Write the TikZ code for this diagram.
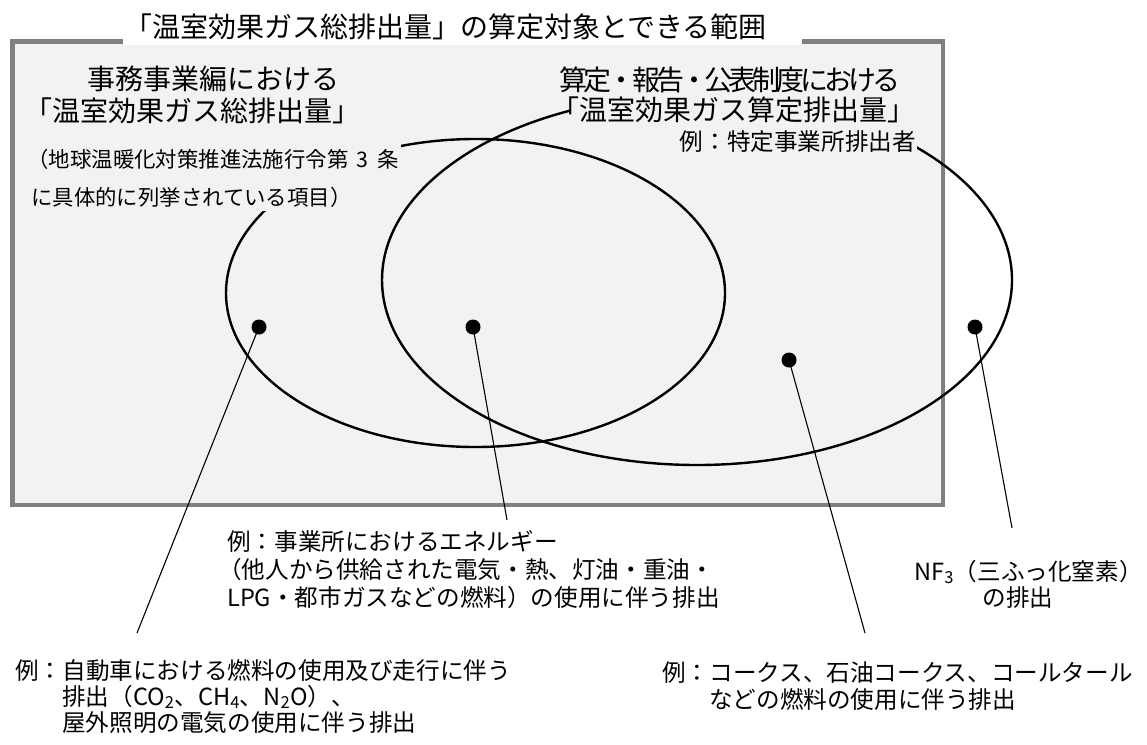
\documentclass[tikz,border=0pt]{standalone}
\usepackage{fontspec}
\setmainfont{Noto Sans CJK JP}
\usetikzlibrary{shapes.geometric}
\definecolor{bgray}{HTML}{F2F2F2}
\definecolor{bord}{HTML}{808080}
\newcommand{\myfsA}{\fontsize{28}{32}\selectfont}
\newcommand{\myfsB}{\fontsize{21.4}{25}\selectfont}
\newcommand{\myfsC}{\fontsize{23.6}{27}\selectfont}
\tikzset{
  txt/.style={inner sep=0pt, text=black},
  big/.style={txt, font=\myfsA},
  small/.style={txt, font=\myfsB},
  mid/.style={txt, font=\myfsC},
  venn/.style={ellipse, draw=black, line width=2.4pt, inner sep=0pt},
  leader/.style={line width=1.1pt, draw=black},
  dotmark/.style={circle, fill=black, inner sep=0pt, minimum size=15pt},
}
\begin{document}
\begin{tikzpicture}[x=1pt, y=-1pt]
\useasboundingbox (0,0) rectangle (1147,744);
\fill[white] (0,0) rectangle (1147,744);
% outer frame
\draw[line width=4.5pt, draw=bord, fill=bgray] (12.5,41.5) rectangle (943,505);
\fill[white] (123,20) rectangle (802,44.5);
\node[big, anchor=west] (title) at (124,27) {「温室効果ガス総排出量」の算定対象とできる範囲};
% right ellipse (算定排出量)
\node[venn, minimum width=630pt, minimum height=370pt] (calc) at (697,280) {};
\fill[bgray] (570,66) rectangle (917,150);
\node[big, anchor=east] (r1) at (901,80) {\addfontfeature{LetterSpace=-14}算定・報告・公表制度における};
\node[big, anchor=east] (r2) at (916,110) {「温室効果ガス算定排出量」};
\node[mid, anchor=east] (r3) at (916,142) {例：特定事業所排出者};
% left ellipse (総排出量)
\node[venn, minimum width=499pt, minimum height=308pt] (tot) at (475.5,293) {};
\fill[bgray] (20,140) rectangle (401,211);
\node[big] (l1) at (213,79) {事務事業編における};
\node[big] (l2) at (192.5,111) {「温室効果ガス総排出量」};
\node[small, anchor=east] (l3) at (399,159) {（地球温暖化対策推進法施行令第\hspace{0.4em}3\hspace{0.4em}条};
\node[small, anchor=west] (l4) at (31,197) {に具体的に列挙されている項目）};
% dots and leaders
\node[dotmark] (dA) at (259,327) {};
\node[dotmark] (dB) at (473,327) {};
\node[dotmark] (dC) at (789,360) {};
\node[dotmark] (dD) at (975,327) {};
\coordinate (eA) at (137,633);
\coordinate (eB) at (507,520);
\coordinate (eC) at (865,633);
\coordinate (eD) at (1012,528);
\draw[leader] (dA.center) -- (eA);
\draw[leader] (dB.center) -- (eB);
\draw[leader] (dC.center) -- (eC);
\draw[leader] (dD.center) -- (eD);
% bottom texts
\node[mid, anchor=west] (b1) at (227,541) {例：事業所におけるエネルギー};
\node[mid, anchor=west] (b2) at (218,570) {（他人から供給された電気・熱、灯油・重油・};
\node[mid, anchor=west] (b3) at (227,598) {LPG・都市ガスなどの燃料）の使用に伴う排出};
\node[mid, anchor=west] (a1) at (15,671) {例：自動車における燃料の使用及び走行に伴う};
\node[mid, anchor=west] (a2) at (62,697) {排出（CO\textsubscript{2}、CH\textsubscript{4}、N\textsubscript{2}O）、};
\node[mid, anchor=west] (a3) at (62,723) {屋外照明の電気の使用に伴う排出};
\node[mid, anchor=west] (c1) at (662,673) {例：コークス、石油コークス、コールタール};
\node[mid, anchor=west] (c2) at (709,700) {などの燃料の使用に伴う排出};
\node[mid, anchor=west] (n1) at (914,572) {NF\textsubscript{3}（三ふっ化窒素）};
\node[mid] (n2) at (1018,598) {の排出};
\end{tikzpicture}
\end{document}
